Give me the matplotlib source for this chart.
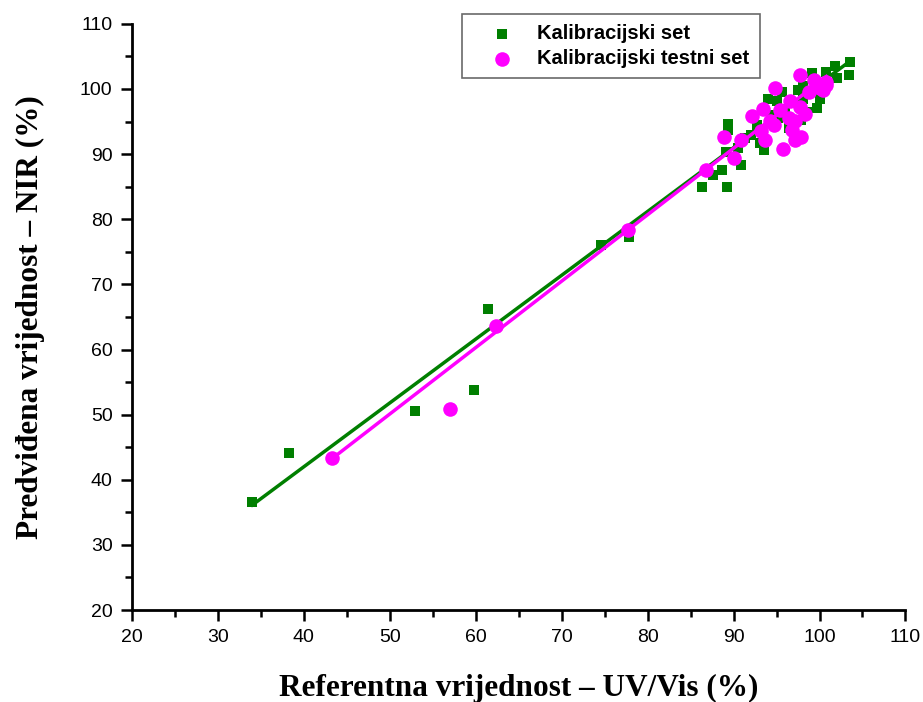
import numpy as np
import matplotlib
matplotlib.use("Agg")
import matplotlib.pyplot as plt
from matplotlib.ticker import MultipleLocator

# Kalibracijski set (squares)
kal_x = [34.0, 38.3, 52.9, 59.8, 61.4, 74.6, 77.8, 86.3, 87.6, 88.6, 89.2, 89.1,
         89.4, 89.4, 90.9, 91.3, 92.7, 93.1, 93.5, 94.0, 95.0, 95.6, 96.5, 97.5,
         98.1, 98.1, 97.9, 99.1, 99.7, 100.0, 100.7, 101.8, 102.0, 103.4, 103.6,
         95.2, 96.0, 92.0, 94.5, 98.5, 90.5]
kal_y = [36.6, 44.1, 50.5, 53.8, 66.2, 76.1, 77.2, 85.0, 86.8, 87.6, 85.0, 90.4,
         93.7, 94.7, 88.4, 92.5, 94.5, 91.7, 90.7, 98.5, 98.1, 99.6, 94.0, 99.9,
         98.5, 100.5, 95.3, 102.4, 97.1, 98.4, 102.6, 103.6, 101.7, 102.2, 104.2,
         95.5, 97.0, 93.0, 96.0, 96.5, 91.0]

# Kalibracijski testni set (circles)
test_x = [43.3, 57.0, 62.4, 77.7, 86.8, 88.9, 90.0, 90.9, 92.2, 93.4, 93.2, 93.7,
          94.8, 94.2, 95.4, 94.7, 95.8, 96.6, 96.4, 97.2, 97.2, 97.9, 97.7, 97.7,
          96.8, 98.8, 99.4, 100.1, 100.7, 100.4, 100.8, 98.3]
test_y = [43.3, 50.9, 63.6, 78.4, 87.6, 92.6, 89.4, 92.2, 95.9, 97.0, 93.5, 92.2,
          100.2, 95.1, 96.7, 94.5, 90.8, 98.2, 95.6, 95.1, 92.2, 92.7, 102.2, 97.2,
          93.7, 99.6, 101.4, 100.1, 101.1, 99.8, 100.6, 96.1]

# regression lines (slope, intercept)
kal_fit = (0.98, 2.8)
test_fit = (1.02, -0.9)

green = "#007f00"
magenta = "#ff00ff"

fig = plt.figure(figsize=(9.23, 7.02), dpi=100)
ax = fig.add_axes([0.143, 0.131, 0.838, 0.835])

ax.scatter(kal_x, kal_y, marker="s", s=62, color=green, linewidths=0,
           label="Kalibracijski set", zorder=2)
xs = np.array([min(kal_x), max(kal_x)])
ax.plot(xs, kal_fit[0] * xs + kal_fit[1], color=green, lw=2.5, zorder=3)

ax.scatter(test_x, test_y, marker="o", s=110, color=magenta, linewidths=0,
           label="Kalibracijski testni set", zorder=4)
xs = np.array([min(test_x), max(test_x)])
ax.plot(xs, test_fit[0] * xs + test_fit[1], color=magenta, lw=2.5, zorder=5)

ax.set_xlim(20, 110)
ax.set_ylim(20, 110)
ax.xaxis.set_major_locator(MultipleLocator(10))
ax.xaxis.set_minor_locator(MultipleLocator(5))
ax.yaxis.set_major_locator(MultipleLocator(10))
ax.yaxis.set_minor_locator(MultipleLocator(5))

for s in ["top", "right"]:
    ax.spines[s].set_visible(False)
for s in ["left", "bottom"]:
    ax.spines[s].set_linewidth(2)

ax.tick_params(which="major", direction="out", length=8, width=1.8,
               labelsize=14, pad=6)
ax.tick_params(which="minor", direction="out", length=5, width=1.8)
for lab in ax.get_xticklabels() + ax.get_yticklabels():
    lab.set_fontfamily("Liberation Sans")

ax.set_xlabel("Referentna vrijednost – UV/Vis (%)", fontsize=22.5,
              fontweight="bold", family="Liberation Serif", labelpad=20)
ax.set_ylabel("Predviđena vrijednost – NIR (%)", fontsize=22.5,
              fontweight="bold", family="Liberation Serif", labelpad=25)

leg = ax.legend(loc="upper left", bbox_to_anchor=(0.5005, 0.980),
                bbox_transform=fig.transFigure, borderaxespad=0,
                frameon=True, fancybox=False,
                borderpad=0.5, handlelength=3.0, handletextpad=0.25,
                labelspacing=0.3, markerscale=1.0,
                prop={"family": "Liberation Sans", "weight": "bold", "size": 14.5})
leg.get_frame().set_edgecolor("#444444")
leg.get_frame().set_linewidth(1.2)

fig.savefig("out.png", dpi=100)
